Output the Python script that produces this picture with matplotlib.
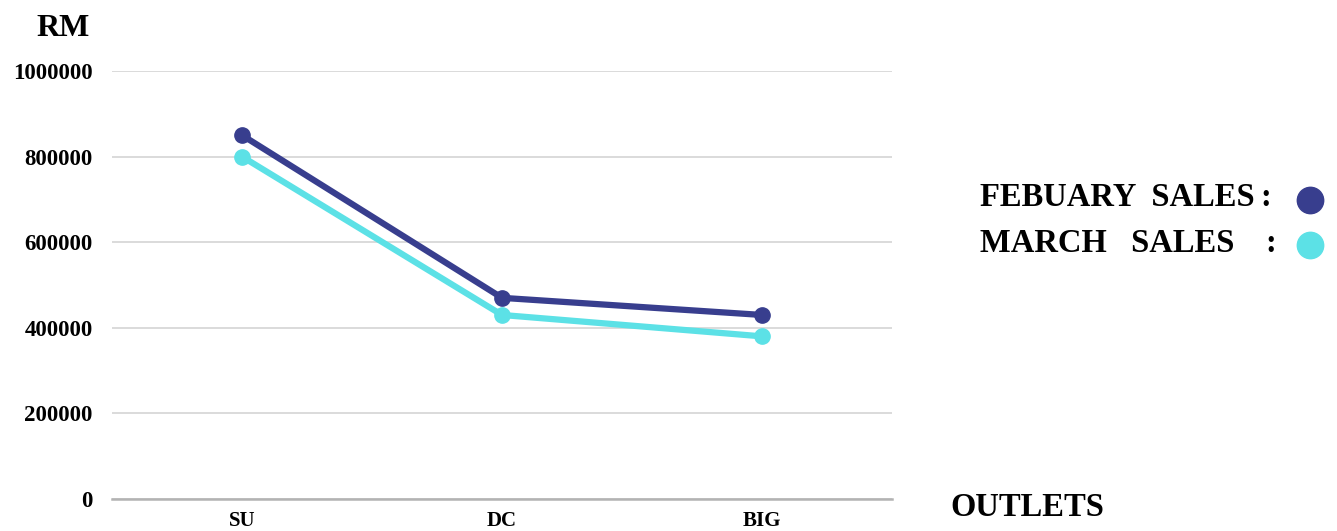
import matplotlib
matplotlib.use("Agg")
import matplotlib.pyplot as plt
from matplotlib.lines import Line2D

# outlet sales (RM)
outlets = ["SU", "DC", "BIG"]
feb_sales = [850000, 470000, 430000]
mar_sales = [800000, 430000, 380000]
y_ticks = [0, 200000, 400000, 600000, 800000, 1000000]

FEB_COLOR = "#383E8E"
MAR_COLOR = "#5CE1E6"
SERIF = ["Liberation Serif", "DejaVu Serif"]

plt.rcParams["font.family"] = SERIF
plt.rcParams["font.weight"] = "bold"

W, H = 1337, 531
fig = plt.figure(figsize=(W / 100, H / 100), dpi=100)
ax = fig.add_axes([112 / W, 32 / H, (892 - 112) / W, (499 - 71) / H])

x = list(range(len(outlets)))
ax.plot(x, feb_sales, color=FEB_COLOR, lw=4.5, marker="o", ms=11,
        solid_capstyle="round", zorder=3)
ax.plot(x, mar_sales, color=MAR_COLOR, lw=4.5, marker="o", ms=11,
        solid_capstyle="round", zorder=3)

ax.set_xlim(-0.5, len(outlets) - 0.5)
ax.set_ylim(0, 1000000)
ax.set_yticks(y_ticks)
ax.set_yticklabels([str(v) for v in y_ticks], fontsize=16.5, fontweight="bold")
ax.set_xticks(x)
ax.set_xticklabels(outlets, fontsize=15, fontweight="bold")
ax.tick_params(axis="y", length=0, pad=14)
ax.tick_params(axis="x", length=0, pad=9)

ax.grid(axis="y", color="#d4d4d4", lw=1.2)
ax.set_axisbelow(True)
for side in ["top", "right", "left"]:
    ax.spines[side].set_visible(False)
ax.spines["bottom"].set_color("#b3b3b3")
ax.spines["bottom"].set_linewidth(1.8)

# axis titles
fig.text(90 / W, 1 - 29 / H, "RM", ha="right", va="center",
         fontsize=23, fontweight="bold")
fig.text(950 / W, 1 - 507 / H, "OUTLETS", ha="left", va="center",
         fontsize=23.5, fontweight="bold")

# legend: label, colon, marker
legend_rows = [("FEBUARY  SALES", FEB_COLOR, 198, 1266),
               ("MARCH   SALES", MAR_COLOR, 243, 1271)]
for label, color, yy, colon_x in legend_rows:
    fig.text(980 / W, 1 - yy / H, label, ha="left", va="center",
             fontsize=23.5, fontweight="bold")
    fig.text(colon_x / W, 1 - yy / H, ":", ha="center", va="center",
             fontsize=23.5, fontweight="bold")
    fig.add_artist(Line2D([1310 / W], [1 - (yy + 2) / H], marker="o",
                          ms=19, color=color, transform=fig.transFigure))

fig.savefig("out.png", dpi=100)
